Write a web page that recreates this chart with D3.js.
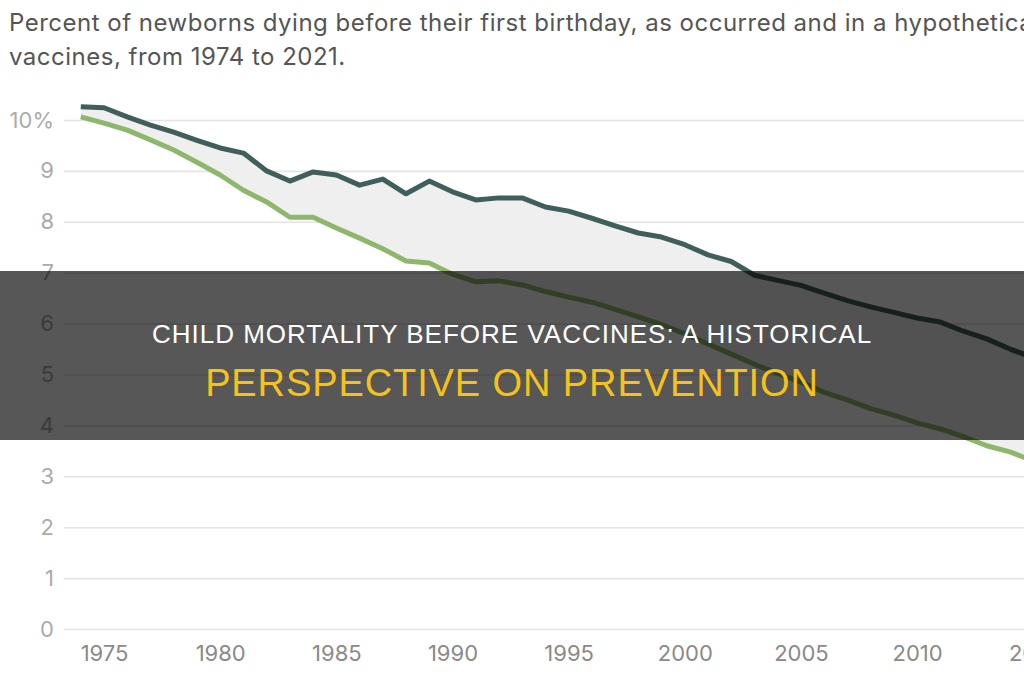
<!DOCTYPE html>
<html>
<head>
<meta charset="utf-8">
<script src="https://cdn.jsdelivr.net/npm/d3@7"></script>
<style>
  body { margin: 0; background: #fff; overflow: hidden; }
  svg { display: block; }
</style>
</head>
<body>
<div id="chart"></div>
<script>
// years and values (percent of newborns dying before age 1)
var years = [1974, 1975, 1976, 1977, 1978, 1979, 1980, 1981, 1982, 1983, 1984, 1985,
  1986, 1987, 1988, 1989, 1990, 1991, 1992, 1993, 1994, 1995, 1996, 1997, 1998, 1999,
  2000, 2001, 2002, 2003, 2004, 2005, 2006, 2007, 2008, 2009, 2010, 2011, 2012, 2013,
  2014, 2015];

// hypothetical world without vaccines (dark line)
var withoutVaccines = [10.26, 10.24, 10.06, 9.9, 9.76, 9.6, 9.45, 9.35, 9.0, 8.8, 8.98, 8.92,
  8.72, 8.84, 8.55, 8.8, 8.59, 8.43, 8.47, 8.47, 8.29, 8.21, 8.07, 7.92, 7.78, 7.7,
  7.55, 7.35, 7.22, 6.95, 6.85, 6.75, 6.6, 6.45, 6.33, 6.22, 6.11, 6.03, 5.85, 5.7,
  5.5, 5.33];

// as occurred (green line)
var asOccurred = [10.06, 9.94, 9.8, 9.61, 9.41, 9.17, 8.92, 8.62, 8.39, 8.09, 8.09, 7.88,
  7.68, 7.47, 7.23, 7.19, 6.97, 6.82, 6.84, 6.76, 6.63, 6.52, 6.42, 6.28, 6.13, 5.98,
  5.8, 5.6, 5.4, 5.2, 5.02, 4.85, 4.65, 4.5, 4.33, 4.2, 4.05, 3.93, 3.78, 3.6,
  3.48, 3.3];

var yTicks = [0, 1, 2, 3, 4, 5, 6, 7, 8, 9, 10];
var xTicks = [1975, 1980, 1985, 1990, 1995, 2000, 2005, 2010, 2015];

var titleLines = [
  "Percent of newborns dying before their first birthday, as occurred and in a hypothetical world without",
  "vaccines, from 1974 to 2021."
];
var bannerTop = "CHILD MORTALITY BEFORE VACCINES: A HISTORICAL";
var bannerBottom = "PERSPECTIVE ON PREVENTION";

var svgWidth = 1024;
var svgHeight = 680;

var svg = d3.select("#chart")
  .append("svg")
  .attr("width", svgWidth)
  .attr("height", svgHeight);

var data = years.map(function(y, i) {
  return { year: y, hi: withoutVaccines[i], lo: asOccurred[i] };
});

var x = d3.scaleLinear()
  .domain([1974, 2015])
  .range([80.8, 80.8 + 41 * 23.23]);

var y = d3.scaleLinear()
  .domain([0, 10])
  .range([629, 120]);

// title
svg.append("g")
  .selectAll("text")
  .data(titleLines)
  .enter()
  .append("text")
  .attr("x", 9)
  .attr("y", (d, i) => 31 + i * 34)
  .attr("font-family", "Inter, 'Open Sans', sans-serif")
  .attr("font-size", "24px")
  .attr("letter-spacing", "0.5px")
  .attr("fill", "#555")
  .text(d => d);

// gridlines + y labels
var leftAxis = d3.axisLeft(y)
  .tickValues(yTicks)
  .tickSize(-(svgWidth - 64))
  .tickPadding(10)
  .tickFormat(d => d === 10 ? "10%" : d);

var yAxis = svg.append("g")
  .attr("transform", "translate(64,0)")
  .call(leftAxis);

yAxis.select(".domain").remove();
yAxis.selectAll(".tick line")
  .attr("stroke", "#e4e4e4")
  .attr("stroke-width", 1.6);
yAxis.selectAll(".tick text")
  .attr("x", -10)
  .attr("font-family", "Inter, 'Open Sans', sans-serif")
  .attr("font-size", "22px")
  .attr("fill", "#ababab");

// x labels
var bottomAxis = d3.axisBottom(x)
  .tickValues(xTicks)
  .tickSize(0)
  .tickPadding(0)
  .tickFormat(d3.format("d"));

var xAxis = svg.append("g")
  .attr("transform", "translate(0,645)")
  .call(bottomAxis);

xAxis.select(".domain").remove();
xAxis.selectAll(".tick text")
  .attr("dy", "0.72em")
  .attr("font-family", "Inter, 'Open Sans', sans-serif")
  .attr("font-size", "22px")
  .attr("fill", "#8a8a8a");

// shaded gap between the two series
var area = d3.area()
  .x(d => x(d.year))
  .y0(d => y(d.lo))
  .y1(d => y(d.hi));

svg.append("path")
  .datum(data)
  .attr("d", area)
  .attr("fill", "#efefef");

var lineHi = d3.line().x(d => x(d.year)).y(d => y(d.hi));
var lineLo = d3.line().x(d => x(d.year)).y(d => y(d.lo));

svg.append("path")
  .datum(data)
  .attr("d", lineLo)
  .attr("fill", "none")
  .attr("stroke", "#8db86c")
  .attr("stroke-width", 5)
  .attr("stroke-linejoin", "round");

svg.append("path")
  .datum(data)
  .attr("d", lineHi)
  .attr("fill", "none")
  .attr("stroke", "#3f5e5c")
  .attr("stroke-width", 5)
  .attr("stroke-linejoin", "round");

// dark banner over the chart
svg.append("rect")
  .attr("x", 0)
  .attr("y", 271)
  .attr("width", svgWidth)
  .attr("height", 169)
  .attr("fill", "#000")
  .attr("fill-opacity", 0.66);

svg.append("text")
  .attr("x", 512)
  .attr("y", 343)
  .attr("text-anchor", "middle")
  .attr("font-family", "'Liberation Sans', Arial, sans-serif")
  .attr("font-size", "26px")
  .attr("letter-spacing", "1px")
  .attr("fill", "#ffffff")
  .text(bannerTop);

svg.append("text")
  .attr("x", 512)
  .attr("y", 396)
  .attr("text-anchor", "middle")
  .attr("font-family", "'Liberation Sans', Arial, sans-serif")
  .attr("font-size", "38px")
  .attr("letter-spacing", "0.9px")
  .attr("fill", "#f5c21b")
  .text(bannerBottom);
</script>
</body>
</html>
